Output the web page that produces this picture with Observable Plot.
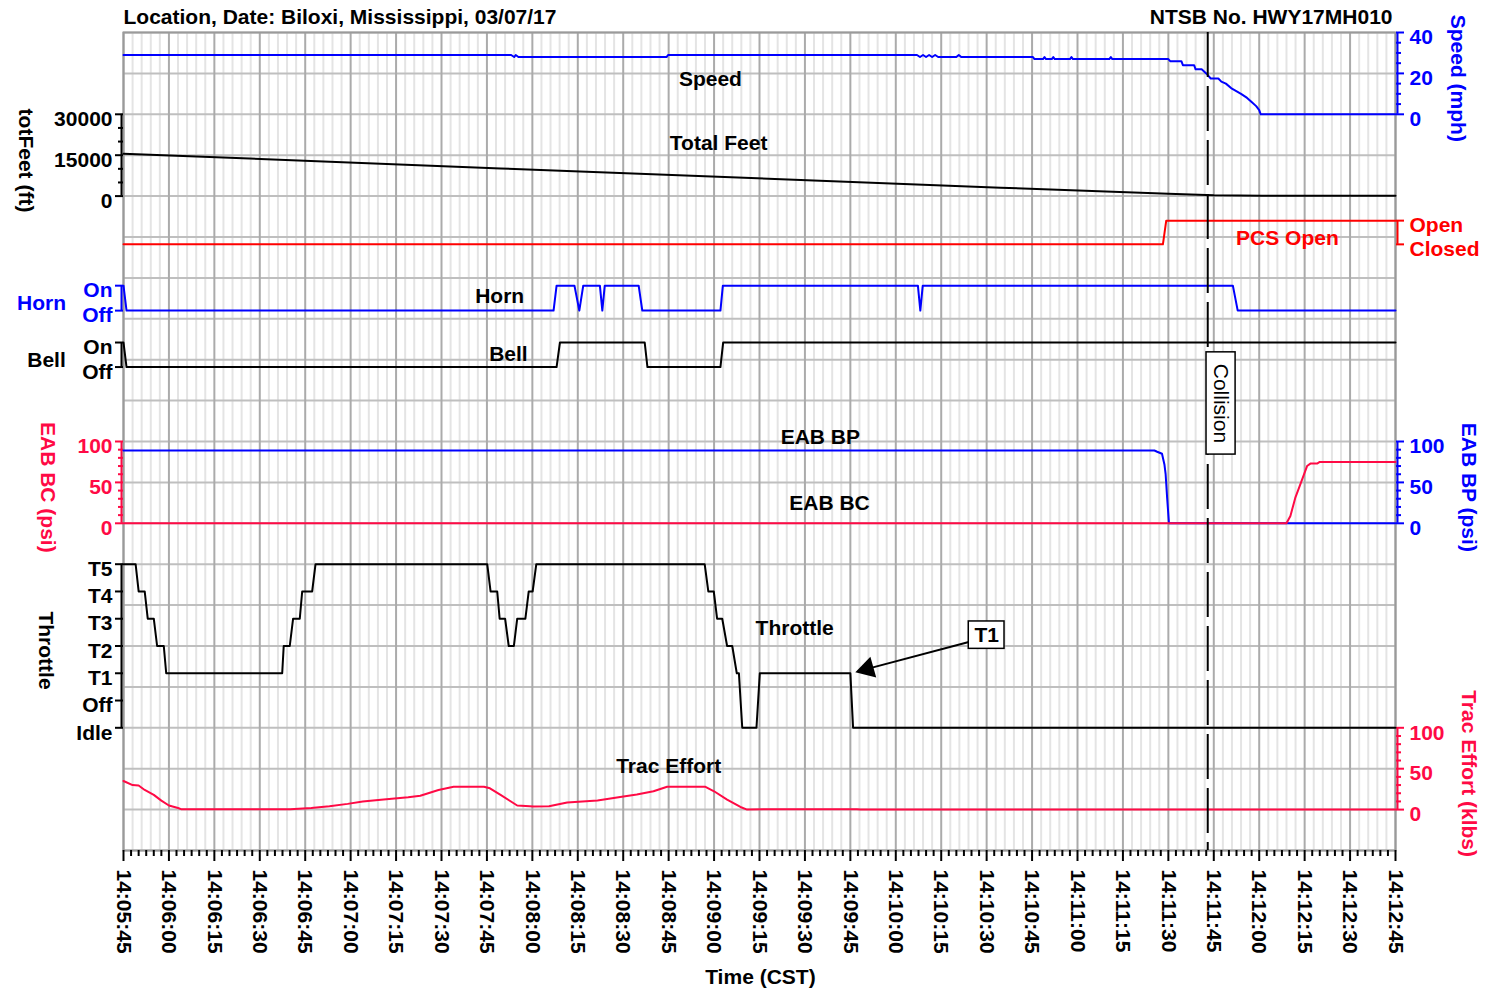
<!DOCTYPE html>
<html>
<head>
<meta charset="utf-8">
<script src="https://cdn.jsdelivr.net/npm/d3@7"></script>
<script src="https://cdn.jsdelivr.net/npm/@observablehq/plot@0.6"></script>
<style>
  body { margin: 0; background: #fff; }
</style>
</head>
<body>
<div id="chart"></div>
<script>
// ---------------- DATA (seconds after 14:05:45 CST, 03/07/17) ----------------
const speedT = [0, 128, 129, 129.5, 130.4, 179.3, 179.8, 262, 263, 264, 265, 266, 267, 268, 269, 275, 275.8, 276.6, 300.3, 300.8, 303.6, 304.1, 304.6, 306.5, 307, 307.5, 312.5, 313, 313.5, 325.5, 326, 326.5, 345, 345.6, 349.3, 349.8, 353.5, 354, 356, 357.5, 359, 361.5, 362.5, 364, 366, 369, 371, 372.5, 374, 375, 375.5, 420];
const speedV = [29, 29, 28, 29, 28, 28, 29, 29, 28, 29, 28, 29, 28, 29, 28, 28, 29, 28, 28, 27, 27, 28, 27, 27, 28, 27, 27, 28, 27, 27, 28, 27, 27, 26, 26, 24, 24, 22, 22, 20, 17.5, 17.5, 16, 15, 12.5, 10, 8, 6, 4, 2, 0, 0];

const feetT = [0, 124.5, 289.6, 345, 360, 376, 420];
const feetV = [15550, 10150, 3080, 850, 300, 150, 150];

const pcsT = [0, 343.2, 344.3, 420];
const pcsV = [0, 0, 1, 1];               // 0 = Closed, 1 = Open

const hornT = [0, 1, 142, 143, 148.9, 150.5, 151.8, 157.3, 158.1, 158.9, 170.1, 171.3, 197.1, 197.9, 262.3, 263.1, 263.9, 366.3, 367.9, 420];
const hornV = [1, 0, 0, 1, 1, 0, 1, 1, 0, 1, 1, 0, 0, 1, 1, 0, 1, 1, 0, 0];   // 0 = Off, 1 = On

const bellT = [0, 1, 143, 144.1, 172.1, 173, 197.1, 198, 420];
const bellV = [1, 0, 0, 1, 1, 0, 0, 1, 1];

const eabBpT = [0, 340.4, 341.3, 342.9, 343.7, 344.1, 344.6, 345.2, 420];
const eabBpV = [89, 89, 87.5, 85, 72, 60, 31, 0, 0];

const eabBcT = [0, 384, 385.3, 386.9, 388.6, 390.8, 391.9, 394.1, 395, 420];
const eabBcV = [0, 0, 9, 31, 48, 70, 73, 73, 75, 75];

const throttleNames = ["Idle", "Off", "T1", "T2", "T3", "T4", "T5"];
const throttleT = [0, 4, 5, 7, 8, 10, 11.1, 13.3, 14.1, 52.4, 52.9, 54.9, 56, 58.2, 59, 62.3, 63.4, 120.1, 121.2, 123.4, 124.2, 126, 127.2, 128.9, 130, 132.7, 133.8, 135.1, 136.3, 191.9, 193.1, 194.9, 196, 197.7, 199.3, 201, 202.5, 203.2, 204.3, 209, 210.1, 240, 240.9, 420];
const throttleV = ["T5","T5","T4","T4","T3","T3","T2","T2","T1","T1","T2","T2","T3","T3","T4","T4","T5","T5","T4","T4","T3","T3","T2","T2","T3","T3","T4","T4","T5","T5","T4","T4","T3","T3","T2","T2","T1","T1","Idle","Idle","T1","T1","Idle","Idle"];

const tracT = [0, 3, 5, 7, 10, 12.5, 15, 18, 19, 55, 62, 68, 74, 79, 85, 94, 98, 104, 109, 119, 121, 124.5, 130, 135.5, 140.5, 146.5, 156.5, 164, 169.5, 175, 179.5, 192, 195, 199.3, 203.7, 205.9, 212.5, 242.2, 243.3, 420];
const tracV = [35, 30, 29.5, 24, 18, 11, 5, 2, 0.5, 0.5, 2, 4, 7, 10, 12, 15, 17, 24, 28, 28, 26, 18, 5, 3.7, 4, 8.6, 11, 15.4, 18.4, 22.4, 28, 28, 22.4, 12.2, 3.2, 0, 0.5, 0.5, 0, 0];

const collisionT = 358;

// Tick labels
const timeFormat = "%H:%M:%S";
const feetTicks = [0, 15000, 30000];
const speedTicks = [0, 20, 40];
const psiTicks = [0, 50, 100];
const klbsTicks = [0, 50, 100];

// ---------------- Layout helpers (panel rows on a shared 0..20 grid) ----------------
const START = Date.UTC(2017, 2, 7, 14, 5, 45);
const at = s => new Date(START + s * 1000);
const rowSpeed = v => 18 + v / 20;
const rowFeet = v => 16 + v / 15000;
const rowPCS = v => 14.82 + 0.58 * v;
const rowHorn = v => 13.2 + 0.61 * v;
const rowBell = v => 11.82 + 0.6 * v;
const rowEAB = v => 8 + v / 50;
const rowThrottle = name => 3 + throttleNames.indexOf(name) * (4 / 6);
const rowTrac = v => 1 + v / 50;

const series = (T, V, f) => T.map((t, i) => ({x: at(t), y: f(V[i])}));

const BLUE = "#0000ff", RED = "#ff0000", PINK = "#ff0a45", BLACK = "#000";
const FONT = {fontSize: 21, fontWeight: "bold"};

function yAxis(anchor, rows, labels, color, minor, lineRange) {
  const fmt = new Map(rows.map((r, i) => [r, labels[i]]));
  const edge = anchor === "left" ? at(0) : at(420);
  const marks = [
    Plot.ruleX([edge], {y1: lineRange[0], y2: lineRange[1], dx: anchor === "left" ? -2 : 2, stroke: color, strokeWidth: 2}),
    Plot.axisY(rows, {anchor, tickSize: 8, tickFormat: () => "", stroke: color, strokeWidth: 2, label: null}),
    Plot.axisY(rows, {anchor, tickSize: 0, tickPadding: anchor === "left" ? 11 : 14, tickFormat: d => fmt.get(d), fill: color, dy: 5, label: null, ...FONT})
  ];
  if (minor.length) marks.push(Plot.axisY(minor, {anchor, tickSize: 5, tickFormat: () => "", stroke: color, strokeWidth: 2, label: null}));
  return marks;
}

const majorTicks = d3.range(0, 421, 15).map(at);
const minorGrid = d3.range(0, 421, 3).filter(s => s % 15 !== 0).map(at);
const minorTicks = d3.range(0, 420.01, 2.5).filter(s => s % 15 !== 0).map(at);

const label = (t, y, text, extra = {}) => ({x: at(t), y, text, ...extra});

const chart = Plot.plot({
  width: 1486,
  height: 992,
  marginLeft: 123,
  marginRight: 91,
  marginTop: 32,
  marginBottom: 142,
  x: {type: "utc", domain: [at(0), at(420)], axis: null, label: null},
  y: {domain: [0, 20], axis: null, label: null},
  style: {fontFamily: "'Liberation Sans', Arial, sans-serif", fontSize: "21px", fontWeight: "bold", background: "#fff", color: "#000"},
  marks: [
    // grid
    Plot.gridX(minorGrid, {stroke: "#e4e4e4", strokeOpacity: 1, strokeWidth: 2}),
    Plot.gridY(d3.range(0, 21), {stroke: "#bfbfbf", strokeOpacity: 1, strokeWidth: 2}),
    Plot.gridX(majorTicks, {stroke: "#ababab", strokeOpacity: 1, strokeWidth: 2}),
    Plot.frame({stroke: "#9a9a9a", strokeWidth: 2}),

    // x axis
    Plot.axisX(minorTicks, {anchor: "bottom", tickSize: 6, tickFormat: () => "", strokeWidth: 2, label: null}),
    Plot.axisX(majorTicks, {anchor: "bottom", tickSize: 11, tickPadding: 8, tickRotate: 90, tickFormat: d3.utcFormat(timeFormat), strokeWidth: 2, label: null, ...FONT}),

    // left axes
    ...yAxis("left", feetTicks.map(rowFeet), feetTicks.map(String), BLACK, d3.range(0, 30001, 5000).filter(v => v % 15000).map(rowFeet), [rowFeet(0), rowFeet(30000)]),
    ...yAxis("left", [0, 1].map(rowHorn), ["Off", "On"], BLUE, [], [rowHorn(0), rowHorn(1)]),
    ...yAxis("left", [0, 1].map(rowBell), ["Off", "On"], BLACK, [], [rowBell(0), rowBell(1)]),
    ...yAxis("left", psiTicks.map(rowEAB), psiTicks.map(String), PINK, d3.range(0, 101, 10).filter(v => v % 50).map(rowEAB), [rowEAB(0), rowEAB(100)]),
    ...yAxis("left", throttleNames.map(rowThrottle), throttleNames, BLACK, [], [rowThrottle("Idle"), rowThrottle("T5")]),

    // right axes
    ...yAxis("right", speedTicks.map(rowSpeed), speedTicks.map(String), BLUE, d3.range(0, 41, 5).filter(v => v % 20).map(rowSpeed), [rowSpeed(0), rowSpeed(40)]),
    ...yAxis("right", [0, 1].map(rowPCS), ["Closed", "Open"], RED, [], [rowPCS(0), rowPCS(1)]),
    ...yAxis("right", psiTicks.map(rowEAB), psiTicks.map(String), BLUE, d3.range(0, 101, 10).filter(v => v % 50).map(rowEAB), [rowEAB(0), rowEAB(100)]),
    ...yAxis("right", klbsTicks.map(rowTrac), klbsTicks.map(String), PINK, d3.range(0, 101, 10).filter(v => v % 50).map(rowTrac), [rowTrac(0), rowTrac(100)]),

    // data lines
    Plot.line(series(speedT, speedV, rowSpeed), {x: "x", y: "y", stroke: BLUE, strokeWidth: 2}),
    Plot.line(series(feetT, feetV, rowFeet), {x: "x", y: "y", stroke: BLACK, strokeWidth: 2}),
    Plot.line(series(pcsT, pcsV, rowPCS), {x: "x", y: "y", stroke: RED, strokeWidth: 2}),
    Plot.line(series(hornT, hornV, rowHorn), {x: "x", y: "y", stroke: BLUE, strokeWidth: 2}),
    Plot.line(series(bellT, bellV, rowBell), {x: "x", y: "y", stroke: BLACK, strokeWidth: 2}),
    Plot.line(series(eabBpT, eabBpV, rowEAB), {x: "x", y: "y", stroke: BLUE, strokeWidth: 2}),
    Plot.line(series(eabBcT, eabBcV, rowEAB), {x: "x", y: "y", stroke: PINK, strokeWidth: 2}),
    Plot.line(series(throttleT, throttleV, rowThrottle), {x: "x", y: "y", stroke: BLACK, strokeWidth: 2}),
    Plot.line(series(tracT, tracV, rowTrac), {x: "x", y: "y", stroke: PINK, strokeWidth: 2}),

    // collision marker
    Plot.ruleX([at(collisionT)], {stroke: BLACK, strokeWidth: 2, strokeDasharray: "45,9"}),
    Plot.rect([{x1: at(357.6), x2: at(367.2), y1: 9.68, y2: 12.18}], {x1: "x1", x2: "x2", y1: "y1", y2: "y2", fill: "#fff", stroke: BLACK, strokeWidth: 1.5}),
    Plot.text([label(362.3, 10.93, "Collision")], {x: "x", y: "y", text: "text", rotate: 90, fill: BLACK, fontSize: 21, fontWeight: "normal"}),

    // T1 callout
    Plot.link([{x1: at(279.1), y1: 5.1, x2: at(245.6), y2: 4.44}], {x1: "x1", y1: "y1", x2: "x2", y2: "y2", stroke: BLACK, strokeWidth: 2}),
    Plot.dot([label(245.6, 4.44, "")], {x: "x", y: "y", symbol: "triangle", r: 8, rotate: -105.7, fill: BLACK, stroke: null}),
    Plot.rect([{x1: at(279.1), x2: at(290.9), y1: 4.93, y2: 5.6}], {x1: "x1", x2: "x2", y1: "y1", y2: "y2", fill: "#fff", stroke: BLACK, strokeWidth: 1.5}),
    Plot.text([label(285, 5.265, "T1")], {x: "x", y: "y", text: "text", fill: BLACK, ...FONT}),

    // series labels inside the plot
    Plot.text([
      label(193.8, 18.85, "Speed"),
      label(196.5, 17.29, "Total Feet"),
      label(124.2, 13.55, "Horn"),
      label(127.1, 12.13, "Bell"),
      label(230.1, 10.10, "EAB BP"),
      label(233.1, 8.48, "EAB BC"),
      label(221.6, 5.43, "Throttle"),
      label(180.0, 2.05, "Trac Effort")
    ], {x: "x", y: "y", text: "text", fill: BLACK, ...FONT}),
    Plot.text([label(384.3, 14.96, "PCS Open")], {x: "x", y: "y", text: "text", fill: RED, ...FONT}),

    // axis titles
    Plot.text([label(0, 16.87, "totFeet (ft)")], {x: "x", y: "y", text: "text", dx: -98, rotate: 90, fill: BLACK, ...FONT}),
    Plot.text([label(0, 4.89, "Throttle")], {x: "x", y: "y", text: "text", dx: -78, rotate: 90, fill: BLACK, ...FONT}),
    Plot.text([label(0, 8.88, "EAB BC (psi)")], {x: "x", y: "y", text: "text", dx: -76, rotate: 90, fill: PINK, ...FONT}),
    Plot.text([label(0, 13.37, "Horn")], {x: "x", y: "y", text: "text", dx: -82, fill: BLUE, ...FONT}),
    Plot.text([label(0, 11.98, "Bell")], {x: "x", y: "y", text: "text", dx: -77, fill: BLACK, ...FONT}),
    Plot.text([label(420, 18.88, "Speed (mph)")], {x: "x", y: "y", text: "text", dx: 62, rotate: 90, fill: BLUE, ...FONT}),
    Plot.text([label(420, 8.88, "EAB BP (psi)")], {x: "x", y: "y", text: "text", dx: 73, rotate: 90, fill: BLUE, ...FONT}),
    Plot.text([label(420, 1.88, "Trac Effort (klbs)")], {x: "x", y: "y", text: "text", dx: 73, rotate: 90, fill: PINK, ...FONT}),
    Plot.text([label(210.3, -3.1, "Time (CST)")], {x: "x", y: "y", text: "text", fill: BLACK, ...FONT}),

    // headers
    Plot.text([label(0, 20.37, "Location, Date: Biloxi, Mississippi, 03/07/17")], {x: "x", y: "y", text: "text", textAnchor: "start", fill: BLACK, ...FONT}),
    Plot.text([label(420, 20.37, "NTSB No. HWY17MH010")], {x: "x", y: "y", text: "text", textAnchor: "end", dx: -3, fill: BLACK, ...FONT})
  ]
});

document.getElementById("chart").append(chart);
</script>
</body>
</html>
